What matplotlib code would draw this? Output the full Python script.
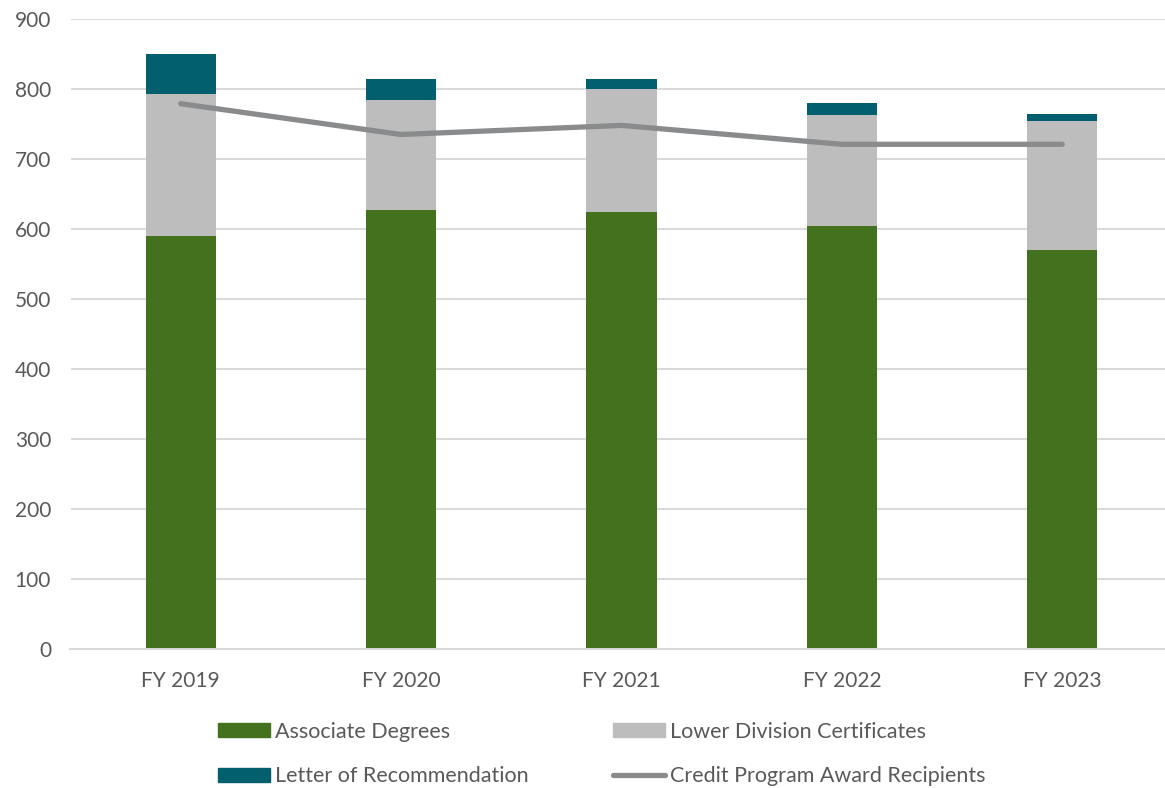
import numpy as np
import matplotlib.pyplot as plt
from matplotlib.patches import Patch
from matplotlib.lines import Line2D

plt.rcParams['font.family'] = ['Lato', 'DejaVu Sans']

years = ['FY 2019', 'FY 2020', 'FY 2021', 'FY 2022', 'FY 2023']
associate = [590, 627, 624, 604, 570]
lower_div = [203, 157, 176, 159, 185]
letter_rec = [57, 31, 15, 17, 10]
recipients = [779, 735, 748, 721, 721]

GREEN = '#43711e'
GRAY = '#bcbdbc'
TEAL = '#015f6e'
LINE = '#898b8d'
TXT = '#595959'

fig = plt.figure(figsize=(11.65, 7.88), dpi=100, facecolor='white')
ax = fig.add_axes([70.5 / 1165, 1 - 649 / 788, 1102 / 1165, 630 / 788])

x = np.arange(len(years))
w = 0.318
assoc = np.array(associate)
low = np.array(lower_div)
ax.bar(x, assoc, w, color=GREEN, zorder=2)
ax.bar(x, low, w, bottom=assoc, color=GRAY, zorder=2)
ax.bar(x, letter_rec, w, bottom=assoc + low, color=TEAL, zorder=2)
ax.plot(x, recipients, color=LINE, lw=3.8, solid_capstyle='round',
        solid_joinstyle='round', zorder=3)

ax.set_xlim(-0.5, len(years) - 0.5)
ax.set_ylim(0, 900)
ax.set_yticks(range(0, 901, 100))
ax.set_xticks(x)
ax.set_xticklabels(years)
ax.grid(axis='y', color='#d9d9d9', lw=1.4, zorder=0)
for s in ['top', 'right', 'left']:
    ax.spines[s].set_visible(False)
ax.spines['bottom'].set_color('#d9d9d9')
ax.spines['bottom'].set_linewidth(1.4)
ax.tick_params(axis='both', length=0, labelsize=15, colors=TXT)
ax.tick_params(axis='x', pad=16)
ax.tick_params(axis='y', pad=14)
for lab in ax.get_yticklabels():
    lab.set_horizontalalignment('right')

handles = [
    Patch(color=GREEN, label='Associate Degrees'),
    Patch(color=TEAL, label='Letter of Recommendation'),
    Patch(color=GRAY, label='Lower Division Certificates'),
    Line2D([0], [0], color=LINE, lw=3.8, solid_capstyle='round',
           label='Credit Program Award Recipients'),
]
fig.legend(handles=handles, ncol=2, loc='center left',
           bbox_to_anchor=(199 / 1165, 1 - 754 / 788), frameon=False,
           fontsize=15.5, labelcolor=TXT, handlelength=2.4, handleheight=0.6,
           handletextpad=0.25, columnspacing=3.9, labelspacing=1.15)

fig.savefig('out.png', dpi=100, facecolor='white')
